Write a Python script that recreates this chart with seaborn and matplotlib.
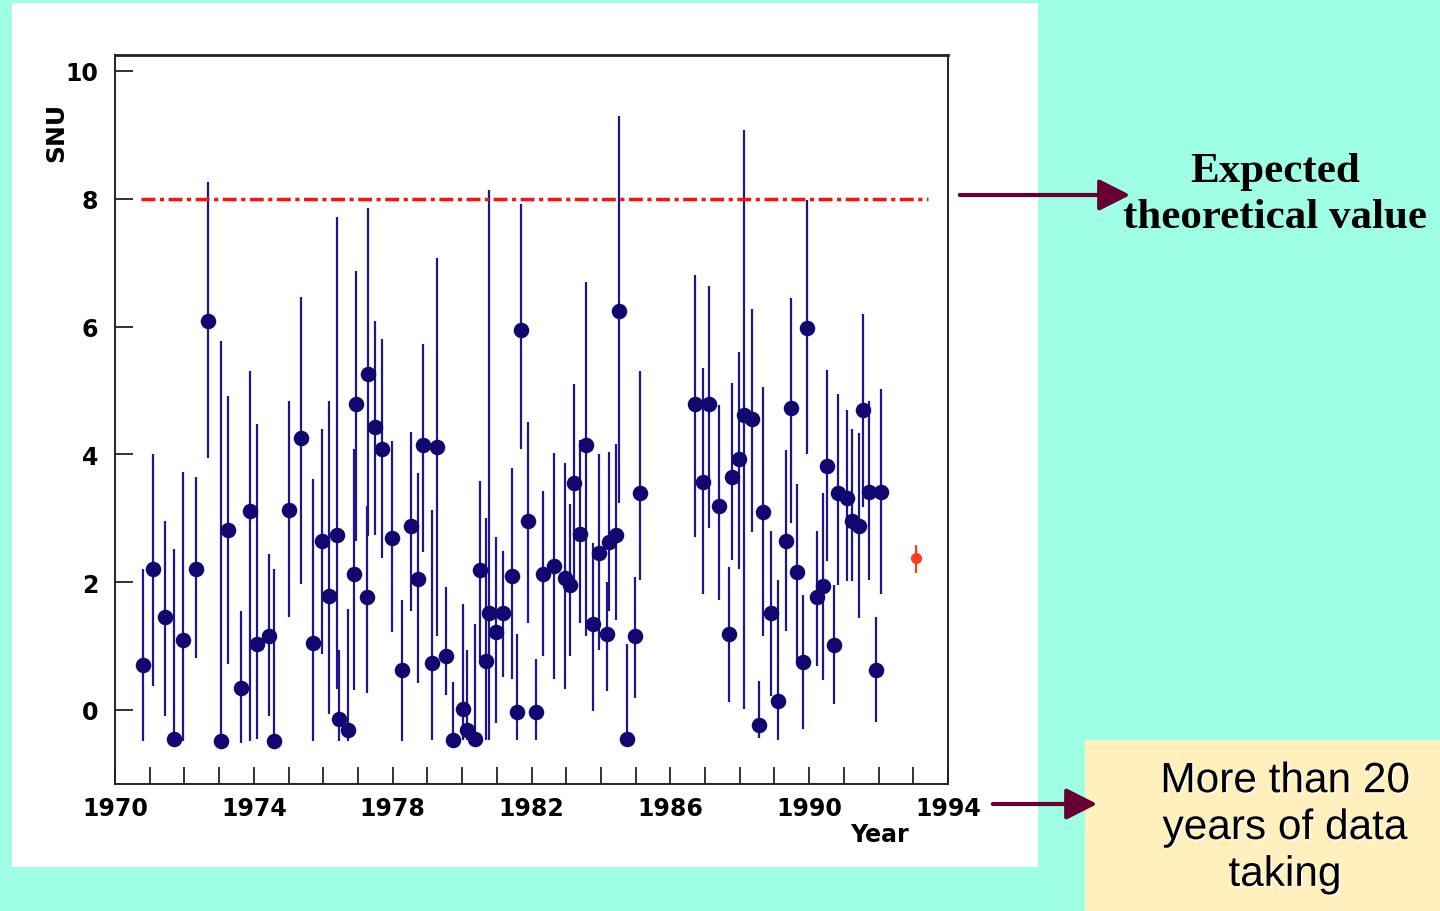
import numpy as np
import pandas as pd
import matplotlib
matplotlib.use("Agg")
import matplotlib.pyplot as plt
import seaborn as sns
from matplotlib.patches import Rectangle, FancyArrowPatch
from matplotlib.ticker import MultipleLocator, FixedLocator
import matplotlib.patheffects as pe

# Chlorine detector runs: year, SNU value, lower and upper error bar ends
years = [1970.82, 1971.10, 1971.44, 1971.71, 1971.95, 1972.32, 1972.69, 1973.05,
         1973.27, 1973.62, 1973.89, 1974.10, 1974.44, 1974.58, 1975.01, 1975.36,
         1975.70, 1975.97, 1976.16, 1976.39, 1976.44, 1976.70, 1976.89, 1976.95,
         1977.27, 1977.28, 1977.49, 1977.68, 1977.97, 1978.26, 1978.53, 1978.74,
         1978.88, 1979.12, 1979.27, 1979.54, 1979.75, 1980.02, 1980.13, 1980.37,
         1980.53, 1980.69, 1980.78, 1980.99, 1981.17, 1981.45, 1981.59, 1981.70,
         1981.89, 1982.12, 1982.32, 1982.65, 1982.96, 1983.11, 1983.22, 1983.40,
         1983.57, 1983.76, 1983.95, 1984.18, 1984.24, 1984.43, 1984.53, 1984.74,
         1984.98, 1985.13, 1986.71, 1986.95, 1987.12, 1987.40, 1987.70, 1987.77,
         1987.98, 1988.12, 1988.34, 1988.55, 1988.66, 1988.90, 1989.11, 1989.33,
         1989.47, 1989.66, 1989.83, 1989.93, 1990.22, 1990.39, 1990.51, 1990.72,
         1990.82, 1991.08, 1991.24, 1991.45, 1991.56, 1991.72, 1991.93, 1992.06]
snu = [0.70, 2.20, 1.45, -0.46, 1.10, 2.21, 6.08, -0.48,
       2.81, 0.34, 3.12, 1.03, 1.16, -0.49, 3.13, 4.26,
       1.04, 2.64, 1.79, 2.73, -0.15, -0.32, 2.13, 4.79,
       1.76, 5.25, 4.43, 4.09, 2.69, 0.63, 2.88, 2.05,
       4.14, 0.74, 4.12, 0.85, -0.47, 0.02, -0.32, -0.45,
       2.19, 0.76, 1.52, 1.22, 1.52, 2.09, -0.03, 5.95,
       2.96, -0.03, 2.12, 2.25, 2.07, 1.95, 3.55, 2.76,
       4.14, 1.34, 2.45, 1.19, 2.62, 2.73, 6.24, -0.45,
       1.15, 3.39, 4.78, 3.56, 4.78, 3.19, 1.18, 3.65,
       3.92, 4.61, 4.55, -0.24, 3.10, 1.52, 0.14, 2.64,
       4.73, 2.16, 0.75, 5.98, 1.77, 1.94, 3.82, 1.02,
       3.39, 3.31, 2.96, 2.88, 4.69, 3.41, 0.62, 3.41]
err_low = [-0.48, 0.37, -0.09, -0.48, -0.48, 0.81, 3.94, -0.48,
           0.72, -0.52, -0.49, -0.46, -0.09, -0.49, 1.46, 1.97,
           -0.48, 0.88, -0.06, 0.33, -0.48, -0.48, 0.31, 2.64,
           0.26, 2.72, 2.73, 2.37, 1.22, -0.48, 1.55, 0.42,
           2.47, -0.47, 1.16, 0.23, -0.47, -0.47, -0.47, -0.47,
           0.79, -0.47, -0.47, -0.21, 0.52, 0.48, -0.47, 4.09,
           1.36, -0.47, 0.84, 0.49, 0.32, 0.84, 2.05, 1.36,
           1.16, -0.02, 0.94, 0.30, 1.55, 1.40, 3.24, -0.47,
           0.19, 2.04, 2.70, 1.81, 2.84, 1.72, 0.12, 2.35,
           2.21, 0.01, 2.79, -0.44, 1.16, 0.22, -0.47, 1.24,
           2.93, 0.75, -0.30, 4.00, 0.68, 0.47, 2.33, 0.09,
           1.96, 2.01, 2.01, 1.44, 3.17, 2.04, -0.19, 1.81]
err_high = [2.21, 4.00, 2.96, 2.52, 3.72, 3.64, 8.26, 5.78,
            4.91, 1.55, 5.30, 4.47, 2.44, 2.21, 4.84, 6.47,
            3.61, 4.40, 4.84, 7.72, 0.93, 1.58, 4.09, 6.87,
            3.19, 7.86, 6.09, 5.81, 4.21, 1.72, 4.35, 3.70,
            5.73, 3.13, 7.07, 1.93, 0.43, 1.65, 0.94, 1.34,
            3.59, 3.00, 8.13, 2.71, 2.49, 3.79, 1.19, 7.92,
            4.51, 0.80, 3.43, 4.02, 3.87, 3.22, 5.10, 4.22,
            6.70, 2.61, 4.00, 2.00, 4.04, 4.16, 9.30, 1.03,
            2.08, 5.31, 6.80, 5.35, 6.63, 4.77, 2.23, 5.12,
            5.60, 9.07, 6.28, 0.45, 5.05, 2.80, 2.03, 4.06,
            6.45, 3.54, 1.80, 7.98, 2.80, 3.40, 5.32, 1.96,
            4.94, 4.69, 4.40, 4.34, 6.20, 4.84, 1.46, 5.03]

# combined average point (red)
avg_year = [1993.08]
avg_snu = [2.37]
avg_low = [2.15]
avg_high = [2.58]

expected_snu = 8.0
expected_span = [1970.75, 1993.42]

x_ticks = [1970, 1974, 1978, 1982, 1986, 1990, 1994]
y_ticks = [0, 2, 4, 6, 8, 10]

BG = "#9effe4"
NAVY = "#120670"
BAR = "#22148a"
MAROON = "#660033"

data = pd.DataFrame({"year": years, "snu": snu, "low": err_low, "high": err_high})
avg = pd.DataFrame({"year": avg_year, "snu": avg_snu, "low": avg_low, "high": avg_high})

sns.set_style("white")
plt.rcParams["font.family"] = ["DejaVu Sans"]

W, H = 1440, 912
fig = plt.figure(figsize=(W / 100, H / 100), dpi=100)
fig.patch.set_facecolor(BG)


def fx(px):
    return px / W


def fy(py):
    return 1 - py / H


# white slide panel behind the plot
fig.patches.append(Rectangle((fx(12), fy(868)), fx(1026), 864 / H,
                             transform=fig.transFigure, facecolor="white",
                             edgecolor="none", zorder=-2))
# yellow note box
fig.patches.append(Rectangle((fx(1085), 0), fx(355), 171 / H,
                             transform=fig.transFigure, facecolor="#fff0bd",
                             edgecolor="none", zorder=-2))

ax = fig.add_axes([fx(115), fy(785), fx(833), 729 / H])
ax.set_facecolor("white")

# error bars then markers
ax.vlines(data["year"], data["low"], data["high"], color=BAR, lw=1.6, zorder=2)
sns.scatterplot(data=data, x="year", y="snu", ax=ax, color=NAVY, s=125,
                edgecolor=NAVY, linewidth=0, marker="o", zorder=3, legend=False)

ax.vlines(avg["year"], avg["low"], avg["high"], color="#ff3c1e", lw=1.6, zorder=2)
sns.scatterplot(data=avg, x="year", y="snu", ax=ax, color="#ff3c1e", s=65,
                linewidth=0, zorder=3, legend=False)

ax.plot(expected_span, [expected_snu, expected_snu], color="#ff1010", lw=2.5,
        linestyle=(0, (4.0, 1.3, 1.2, 1.3)), zorder=4)

ax.set_xlim(1970, 1994)
ax.set_ylim(-1.16, 10.25)
ax.xaxis.set_major_locator(FixedLocator(x_ticks))
ax.xaxis.set_minor_locator(MultipleLocator(1))
ax.yaxis.set_major_locator(FixedLocator(y_ticks))
ax.set_xticklabels([str(t) for t in x_ticks])
ax.set_yticklabels([str(t) for t in y_ticks])

for s in ax.spines.values():
    s.set_color("#222222")
    s.set_linewidth(1.4)
ax.spines["top"].set_linewidth(2.0)

ax.tick_params(axis="x", which="both", direction="in", length=12.5, width=1.3,
               color="#222222", bottom=True, top=False, pad=9)
ax.tick_params(axis="y", which="major", direction="in", length=13, width=1.3,
               color="#222222", left=True, right=False, pad=12)
ax.tick_params(axis="both", labelsize=17, labelcolor="black")
for lab in ax.get_xticklabels() + ax.get_yticklabels():
    lab.set_fontweight("bold")

ax.set_xlabel("Year", fontsize=17, fontweight="bold", ha="center", color="black")
ax.xaxis.set_label_coords(0.918, -0.052)
ax.set_ylabel("SNU", fontsize=18, fontweight="bold", va="center", color="black")
ax.yaxis.set_label_coords(-0.07, 0.895)

# annotation arrows
for x0, x1, yy in [(957, 1133, 196), (990, 1100, 805)]:
    arr = FancyArrowPatch((fx(x0), fy(yy)), (fx(x1), fy(yy)),
                          transform=fig.transFigure,
                          arrowstyle="-|>,head_length=0.95,head_width=0.48",
                          mutation_scale=20, color=MAROON, lw=3, zorder=5)
    fig.patches.append(arr)

fig.text(fx(1275), fy(195), "Expected\ntheoretical value", ha="center",
         va="center", fontsize=31, fontweight="bold", linespacing=1.3,
         family=["Liberation Serif", "DejaVu Serif"], color="black")

fig.text(fx(1285), fy(829), "More than 20\nyears of data\ntaking", ha="center",
         va="center", fontsize=30.5, linespacing=1.22,
         family=["Liberation Sans", "DejaVu Sans"], color="black",
         path_effects=[pe.withSimplePatchShadow(offset=(1, -1), shadow_rgbFace="white", alpha=1.0)])

fig.savefig("out.png", dpi=100, facecolor=fig.get_facecolor())
